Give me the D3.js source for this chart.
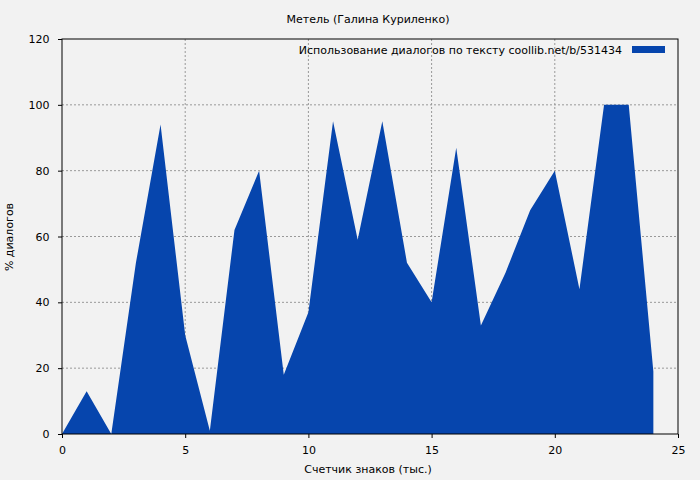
<!DOCTYPE html>
<html><head><meta charset="utf-8">
<script src="https://cdn.jsdelivr.net/npm/d3@7"></script>
<style>body{margin:0;background:#f2f2f2}text{font-family:"DejaVu Sans";font-size:11px;fill:#000}</style>
</head><body><svg id="c" width="700" height="480"></svg>
<script>
const xs=[0,1,2,3,4,5,6,7,8,9,10,11,12,13,14,15,16,17,18,19,20,21,22,23,24];
const vals=[0,13,0,52,94,30,1,62,80,18,37,95,59,95,52,40,87,33,49,68,80,44,100,100,19];
const xTicks=[0,5,10,15,20,25];
const yTicks=[0,20,40,60,80,100,120];
const title="Метель (Галина Куриленко)";
const legendLabel="Использование диалогов по тексту  coollib.net/b/531434";
const svg=d3.select("#c");
const L=62,R=678,T=39,B=434;
const x=d3.scaleLinear().domain([0,25]).range([L,R]);
const y=d3.scaleLinear().domain([0,120]).range([B,T]);
svg.append("rect").attr("width",700).attr("height",480).attr("fill","#f2f2f2");
const g=svg.append("g");
xTicks.slice(1,-1).forEach(t=>g.append("line").attr("x1",x(t)).attr("x2",x(t)).attr("y1",T).attr("y2",B).attr("stroke","#999").attr("stroke-dasharray","2,2"));
yTicks.slice(1,-1).forEach(t=>g.append("line").attr("x1",L).attr("x2",R).attr("y1",y(t)).attr("y2",y(t)).attr("stroke","#999").attr("stroke-dasharray","2,2"));
svg.append("path").datum(xs.map((d,i)=>[d,vals[i]])).attr("fill","#0645ad")
 .attr("d",d3.area().x(d=>x(d[0])).y0(y(0)).y1(d=>y(d[1])));
svg.append("rect").attr("x",L).attr("y",T).attr("width",R-L).attr("height",B-T).attr("fill","none").attr("stroke","#000");
const xa=svg.append("g").attr("transform",`translate(0,${B})`).call(d3.axisBottom(x).tickValues(xTicks).tickSize(4).tickSizeOuter(0));
const ya=svg.append("g").attr("transform",`translate(${L},0)`).call(d3.axisLeft(y).tickValues(yTicks).tickSize(4).tickSizeOuter(0));
[xa,ya].forEach(a=>{a.select(".domain").remove();a.selectAll("text").style("font-family","DejaVu Sans").style("font-size","11px");});
xa.selectAll("text").attr("dy","1.2em");
ya.selectAll("text").attr("dx","-0.5em");
svg.append("text").attr("x",368).attr("y",23).attr("text-anchor","middle").text(title);
svg.append("text").attr("x",368).attr("y",473).attr("text-anchor","middle").text("Счетчик знаков (тыс.)");
svg.append("text").attr("transform","translate(13,237) rotate(-90)").attr("text-anchor","middle").text("% диалогов");
svg.append("text").attr("x",622).attr("y",54).attr("text-anchor","end").text(legendLabel);
svg.append("rect").attr("x",632).attr("y",46).attr("width",33).attr("height",7).attr("fill","#0645ad");
</script></body></html>
